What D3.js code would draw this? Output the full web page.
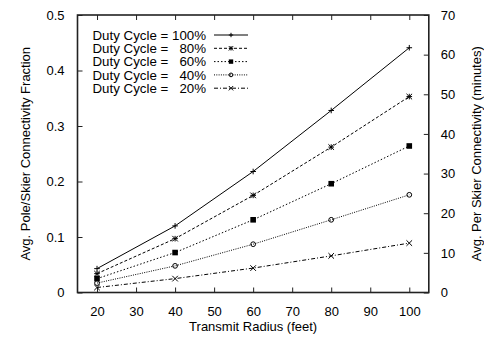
<!DOCTYPE html>
<html>
<head>
<meta charset="utf-8">
<script src="https://cdn.jsdelivr.net/npm/d3@7"></script>
<style>
  body { margin: 0; background: #fff; }
  svg { display: block; font-family: "Liberation Sans", Arial, sans-serif; }
</style>
</head>
<body>
<svg id="chart" width="484" height="337"></svg>
<script>
// data
const radius = [20, 40, 60, 80, 100];
const duty100 = [0.043, 0.120, 0.218, 0.328, 0.441];
const duty80 = [0.034, 0.097, 0.175, 0.262, 0.353];
const duty60 = [0.025, 0.072, 0.131, 0.196, 0.264];
const duty40 = [0.017, 0.048, 0.087, 0.131, 0.176];
const duty20 = [0.009, 0.025, 0.044, 0.066, 0.089];
const dutyLabels = ["100%", "80%", "60%", "40%", "20%"];
const xTicks = [20, 30, 40, 50, 60, 70, 80, 90, 100];
const yTicks = [0, 0.1, 0.2, 0.3, 0.4, 0.5];
const y2Ticks = [0, 10, 20, 30, 40, 50, 60, 70];

const series = [
  { name: dutyLabels[0], values: duty100, dash: null, marker: "plus" },
  { name: dutyLabels[1], values: duty80, dash: "3,2", marker: "star" },
  { name: dutyLabels[2], values: duty60, dash: "1.5,2", marker: "square" },
  { name: dutyLabels[3], values: duty40, dash: "1,1.3", marker: "circle" },
  { name: dutyLabels[4], values: duty20, dash: "4,2,1,2", marker: "cross" }
];

const plotLeft = 77.5, plotRight = 428.8, plotTop = 15, plotBottom = 292.5;
const svg = d3.select("#chart");

const x = d3.scaleLinear().domain([15, 105]).range([plotLeft, plotRight]);
const y = d3.scaleLinear().domain([0, 0.5]).range([plotBottom, plotTop]);
const y2 = d3.scaleLinear().domain([0, 70]).range([plotBottom, plotTop]);

function styleAxis(g) {
  g.select(".domain").remove();
  g.selectAll(".tick line").attr("stroke", "#222").attr("stroke-width", 1);
  g.selectAll("text").attr("fill", "#000").style("font-size", "13px")
    .style("font-family", "'Liberation Sans', Arial, sans-serif");
}

// axes, ticks pointing inward
svg.append("g").attr("transform", `translate(0,${plotBottom})`)
  .call(d3.axisBottom(x).tickValues(xTicks).tickSize(-5).tickPadding(14).tickFormat(d3.format("d")))
  .call(styleAxis);
svg.append("g").attr("transform", `translate(0,${plotTop})`)
  .call(d3.axisTop(x).tickValues(xTicks).tickSize(-5).tickFormat(""))
  .call(styleAxis);
svg.append("g").attr("transform", `translate(${plotLeft},0)`)
  .call(d3.axisLeft(y).tickValues(yTicks).tickSize(-5).tickPadding(13).tickFormat(d => d === 0 ? "0" : d3.format(".1f")(d)))
  .call(styleAxis);
svg.append("g").attr("transform", `translate(${plotRight},0)`)
  .call(d3.axisRight(y2).tickValues(y2Ticks).tickSize(-5).tickPadding(12).tickFormat(d3.format("d")))
  .call(styleAxis);

// frame
svg.append("rect")
  .attr("x", plotLeft).attr("y", plotTop)
  .attr("width", plotRight - plotLeft).attr("height", plotBottom - plotTop)
  .attr("fill", "none").attr("stroke", "#222").attr("stroke-width", 1.6);

// axis titles
svg.append("text")
  .attr("x", (plotLeft + plotRight) / 2).attr("y", 331)
  .attr("text-anchor", "middle").style("font-size", "13px")
  .text("Transmit Radius (feet)");
svg.append("text")
  .attr("transform", `translate(30,${(plotTop + plotBottom) / 2}) rotate(-90)`)
  .attr("text-anchor", "middle").style("font-size", "13px")
  .text("Avg. Pole/Skier Connectivity Fraction");
svg.append("text")
  .attr("transform", `translate(481,${(plotTop + plotBottom) / 2}) rotate(-90)`)
  .attr("text-anchor", "middle").style("font-size", "13px")
  .text("Avg. Per Skier Connectivity (minutes)");

// marker shapes
function drawMarker(g, type, cx, cy, s) {
  if (type === "plus") {
    g.append("path").attr("d", `M${cx - s},${cy}H${cx + s}M${cx},${cy - s}V${cy + s}`)
      .attr("stroke", "#000").attr("stroke-width", 1);
  } else if (type === "cross") {
    g.append("path").attr("d", `M${cx - s},${cy - s}L${cx + s},${cy + s}M${cx - s},${cy + s}L${cx + s},${cy - s}`)
      .attr("stroke", "#000").attr("stroke-width", 1);
  } else if (type === "star") {
    g.append("path").attr("d", `M${cx - s},${cy - s}L${cx + s},${cy + s}M${cx - s},${cy + s}L${cx + s},${cy - s}M${cx - s},${cy}H${cx + s}M${cx},${cy - s}V${cy + s}`)
      .attr("stroke", "#000").attr("stroke-width", 1);
  } else if (type === "square") {
    g.append("rect").attr("x", cx - s).attr("y", cy - s).attr("width", 2 * s).attr("height", 2 * s)
      .attr("fill", "#000");
  } else if (type === "circle") {
    g.append("circle").attr("cx", cx).attr("cy", cy).attr("r", s * 0.85)
      .attr("fill", "none").attr("stroke", "#000").attr("stroke-width", 1);
  }
}

const line = d3.line().x((d, i) => x(radius[i])).y(d => y(d));

series.forEach(s => {
  const g = svg.append("g");
  g.append("path")
    .datum(s.values)
    .attr("d", line)
    .attr("fill", "none")
    .attr("stroke", "#000")
    .attr("stroke-width", 1)
    .attr("stroke-dasharray", s.dash);
  s.values.forEach((v, i) => drawMarker(g, s.marker, x(radius[i]), y(v), 2.8));
});

// legend: one text per row, percentage right-aligned
const legLeft = 92.5, legRight = 206, legY0 = 35, legStep = 13.3, sx0 = 214, sx1 = 248;
series.forEach((s, i) => {
  const ly = legY0 + i * legStep;
  const g = svg.append("g");
  const t = g.append("text").attr("y", ly + 4.7).style("font-size", "13.3px");
  t.append("tspan").attr("x", legLeft).text("Duty Cycle =");
  t.append("tspan").attr("x", legRight).attr("text-anchor", "end").text(s.name);
  g.append("line")
    .attr("x1", sx0).attr("x2", sx1).attr("y1", ly).attr("y2", ly)
    .attr("stroke", "#000").attr("stroke-width", 1)
    .attr("stroke-dasharray", s.dash);
  drawMarker(g, s.marker, (sx0 + sx1) / 2, ly, 2.2);
});
</script>
</body>
</html>
